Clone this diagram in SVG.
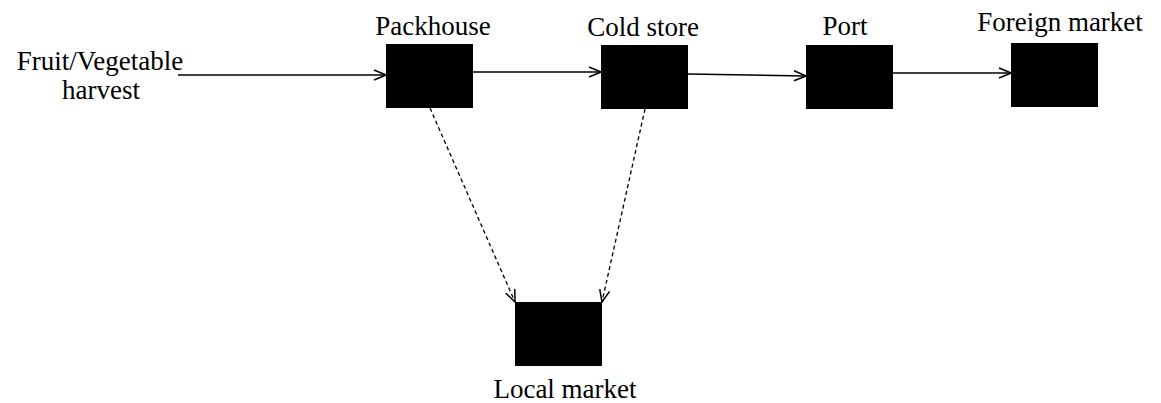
<svg xmlns="http://www.w3.org/2000/svg" width="1161" height="403" viewBox="0 0 1161 403">
<style>
.lbl{font-family:"Liberation Serif","Times New Roman",serif;font-size:27px;fill:#000;text-anchor:middle}
.box{fill:#000}
.solid{stroke:#000;stroke-width:1.6;fill:none}
.dash{stroke:#000;stroke-width:1.3;fill:none;stroke-dasharray:4 3}
</style>
<defs>
<marker id="ah" markerWidth="14" markerHeight="12" refX="13" refY="6" orient="auto" markerUnits="userSpaceOnUse">
<path d="M1,1 L13,6 L1,11" fill="none" stroke="#000" stroke-width="1.5"/>
</marker>
</defs>
<rect width="1161" height="403" fill="#fff"/>
<g id="connectors">
<line class="solid" x1="178" y1="75" x2="386" y2="75" marker-end="url(#ah)"/>
<line class="solid" x1="473" y1="72" x2="601" y2="72" marker-end="url(#ah)"/>
<line class="solid" x1="688" y1="74" x2="806" y2="76" marker-end="url(#ah)"/>
<line class="solid" x1="893" y1="73" x2="1011" y2="73" marker-end="url(#ah)"/>
<line class="dash" x1="430" y1="108" x2="515" y2="302" marker-end="url(#ah)"/>
<line class="dash" x1="645" y1="109" x2="602" y2="302" marker-end="url(#ah)"/>
</g>
<g id="harvest">
<text class="lbl" x="100" y="70">Fruit/Vegetable</text>
<text class="lbl" x="101" y="99">harvest</text>
</g>
<g id="packhouse">
<rect class="box" x="386" y="44" width="87" height="64"/>
<text class="lbl" x="433" y="35">Packhouse</text>
</g>
<g id="coldstore">
<rect class="box" x="601" y="45" width="87" height="64"/>
<text class="lbl" x="643" y="36">Cold store</text>
</g>
<g id="port">
<rect class="box" x="806" y="45" width="87" height="64"/>
<text class="lbl" x="845" y="35">Port</text>
</g>
<g id="foreign">
<rect class="box" x="1011" y="43" width="87" height="64"/>
<text class="lbl" x="1060" y="31">Foreign market</text>
</g>
<g id="local">
<rect class="box" x="515" y="302" width="87" height="64"/>
<text class="lbl" x="565" y="398">Local market</text>
</g>
</svg>
